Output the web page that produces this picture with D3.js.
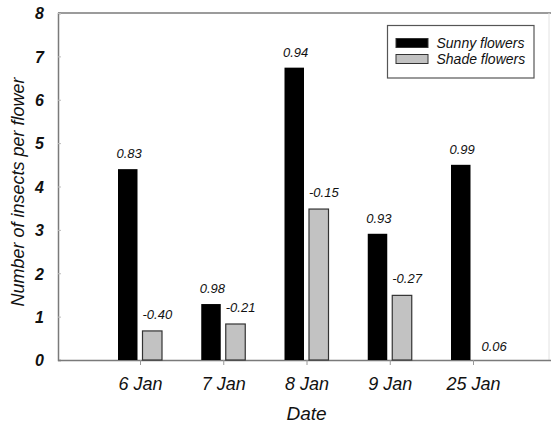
<!DOCTYPE html>
<html>
<head>
<meta charset="utf-8">
<script src="https://cdn.jsdelivr.net/npm/d3@7"></script>
<style>
  html, body { margin: 0; padding: 0; background: #fff; }
  svg { display: block; font-family: "Liberation Sans", Arial, Helvetica, sans-serif; }
</style>
</head>
<body>
<svg id="chart" width="551" height="424"></svg>
<script>
// Insect visits per flower on each survey date
const categories = ["6 Jan", "7 Jan", "8 Jan", "9 Jan", "25 Jan"];
const sunnyValues = [4.40, 1.29, 6.74, 2.91, 4.50];
const shadeValues = [0.67, 0.83, 3.48, 1.49, 0];
const sunnyLabels = ["0.83", "0.98", "0.94", "0.93", "0.99"];
const shadeLabels = ["-0.40", "-0.21", "-0.15", "-0.27", "0.06"];
const yTicks = [0, 1, 2, 3, 4, 5, 6, 7, 8];
const seriesNames = ["Sunny flowers", "Shade flowers"];

const svg = d3.select("#chart");
const plotLeft = 58, plotRight = 549, plotTop = 13, plotBottom = 360;

const x = d3.scalePoint().domain(categories).range([140, 473]);
const y = d3.scaleLinear().domain([0, 8]).range([plotBottom, plotTop]);

const barW = 19.5, gap = 5;
const axisColor = "#7a7a7a";

// frame: top and right edges
svg.append("line").attr("x1", plotLeft).attr("x2", 551).attr("y1", plotTop).attr("y2", plotTop)
  .attr("stroke", axisColor).attr("stroke-width", 1.5);
svg.append("line").attr("x1", plotRight).attr("x2", plotRight).attr("y1", plotTop).attr("y2", plotBottom)
  .attr("stroke", "#e2e2e2").attr("stroke-width", 1);

// y axis
const yAxis = d3.axisLeft(y).tickValues(yTicks).tickSize(-3).tickPadding(14).tickFormat(d3.format("d"));
const gy = svg.append("g").attr("transform", `translate(${plotLeft},0)`).call(yAxis);
gy.select(".domain").attr("stroke", axisColor).attr("stroke-width", 1.5);
gy.selectAll(".tick line").attr("stroke", "#bbb");
gy.selectAll(".tick text")
  .attr("font-size", 16).attr("font-weight", "bold").attr("font-style", "italic")
  .attr("fill", "#111").attr("dy", "0.36em")
  .attr("font-family", "'Liberation Sans', Arial, sans-serif");

// x axis
const xAxis = d3.axisBottom(x).tickSize(5).tickPadding(12).tickSizeOuter(0);
const gx = svg.append("g").attr("transform", `translate(0,${plotBottom})`).call(xAxis);
gx.select(".domain").attr("d", `M${plotLeft},0.5H551`).attr("stroke", axisColor).attr("stroke-width", 1.5);
gx.selectAll(".tick line").attr("stroke", "#999");
gx.selectAll(".tick text")
  .attr("font-size", 18).attr("font-style", "italic").attr("fill", "#111")
  .attr("font-family", "'Liberation Sans', Arial, sans-serif");

// bars
const sunnyX = c => x(c) - gap / 2 - barW;
const shadeX = c => x(c) + gap / 2;

svg.append("g").selectAll("rect")
  .data(categories)
  .join("rect")
  .attr("x", (c) => sunnyX(c))
  .attr("y", (c, i) => y(sunnyValues[i]))
  .attr("width", barW)
  .attr("height", (c, i) => y(0) - y(sunnyValues[i]))
  .attr("fill", "#000");

svg.append("g").selectAll("rect")
  .data(categories.filter((c, i) => shadeValues[i] > 0))
  .join("rect")
  .attr("x", c => shadeX(c))
  .attr("y", c => y(shadeValues[categories.indexOf(c)]))
  .attr("width", barW)
  .attr("height", c => y(0) - y(shadeValues[categories.indexOf(c)]))
  .attr("fill", "#c2c2c2")
  .attr("stroke", "#333")
  .attr("stroke-width", 1.2);

// value annotations above each bar
const annot = svg.append("g")
  .attr("font-size", 13).attr("font-style", "italic").attr("fill", "#111");
annot.selectAll("text.s")
  .data(categories)
  .join("text").attr("class", "s")
  .attr("x", c => sunnyX(c) - 1.5)
  .attr("y", (c, i) => y(sunnyValues[i]) - 11)
  .text((c, i) => sunnyLabels[i]);
annot.selectAll("text.h")
  .data(categories)
  .join("text").attr("class", "h")
  .attr("x", (c, i) => shadeX(c) + (shadeValues[i] > 0 ? 0 : 6))
  .attr("y", (c, i) => y(shadeValues[i]) - (shadeValues[i] > 0 ? 12 : 9))
  .text((c, i) => shadeLabels[i]);

// axis titles
svg.append("text")
  .attr("transform", "translate(24,192) rotate(-90)")
  .attr("text-anchor", "middle")
  .attr("font-size", 18).attr("font-style", "italic").attr("fill", "#111")
  .text("Number of insects per flower");
svg.append("text")
  .attr("x", (x(categories[0]) + x(categories[categories.length - 1])) / 2)
  .attr("y", 420)
  .attr("text-anchor", "middle")
  .attr("font-size", 19).attr("font-style", "italic").attr("fill", "#111")
  .text("Date");

// legend
const lg = svg.append("g").attr("transform", "translate(387,25)");
lg.append("rect").attr("x", 0.5).attr("y", 0.5).attr("width", 146.5).attr("height", 52.5)
  .attr("fill", "#fff").attr("stroke", "#555").attr("stroke-width", 1.2);
const legendFill = ["#000", "#c2c2c2"];
seriesNames.forEach((name, i) => {
  lg.append("rect")
    .attr("x", 9).attr("y", 13.5 + i * 16).attr("width", 32).attr("height", 9)
    .attr("fill", legendFill[i]).attr("stroke", "#333").attr("stroke-width", 1);
  lg.append("text")
    .attr("x", 49.5).attr("y", 23 + i * 16)
    .attr("font-size", 14).attr("font-style", "italic").attr("fill", "#111")
    .text(name);
});
</script>
</body>
</html>
